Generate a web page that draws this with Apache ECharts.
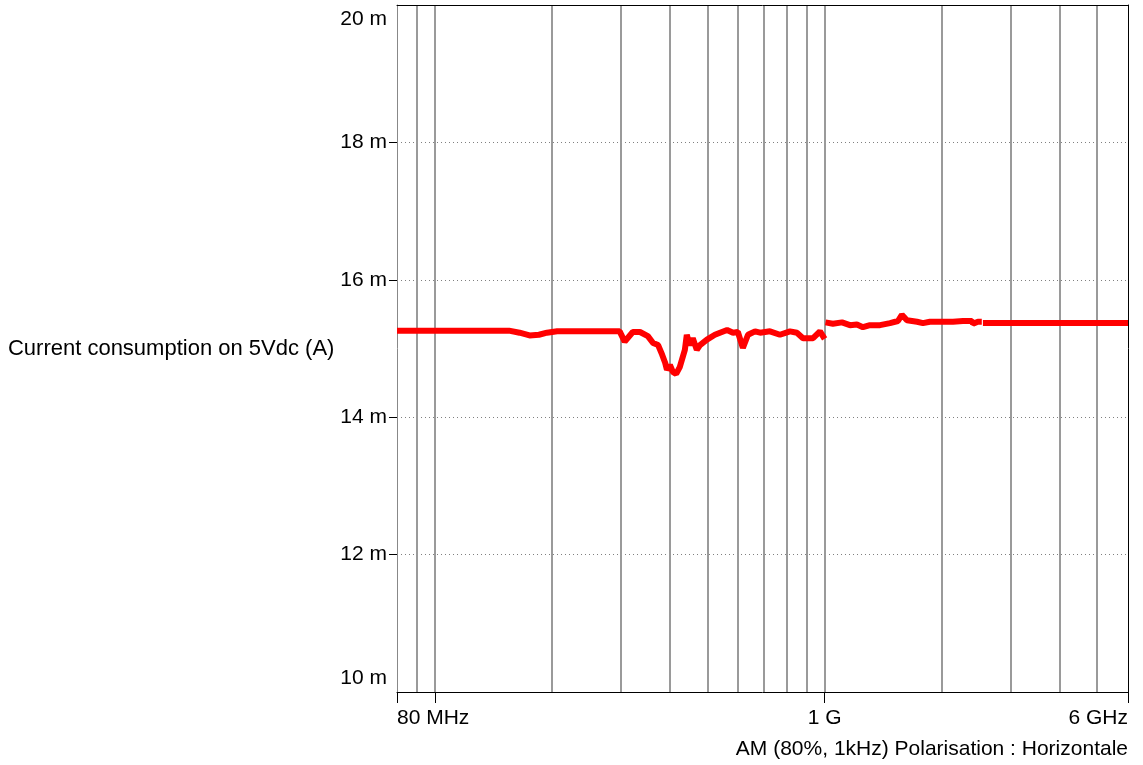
<!DOCTYPE html>
<html>
<head>
<meta charset="utf-8">
<script src="https://cdn.jsdelivr.net/npm/echarts@6/dist/echarts.min.js"></script>
<style>html,body{margin:0;padding:0;background:#fff}#c{width:1143px;height:765px}</style>
</head>
<body>
<div id="c"></div>
<script>
// Frequencies in MHz, current in mA (axis shows "m")
const seg1Freq = [80,155,165,175,185,194,206,298,307,322,336,352,363,374,383,390,394,401,408,416,425,438,443,451,459,470,479,499,523,539,562,582,599,617,636,663,683,724,768,815,849,880,934,973,1000];
const seg1Val  = [15.26,15.26,15.23,15.19,15.20,15.23,15.25,15.25,15.10,15.24,15.24,15.18,15.08,15.05,14.91,14.79,14.69,14.76,14.66,14.63,14.73,14.98,15.20,15.05,15.15,14.98,15.05,15.13,15.20,15.23,15.27,15.23,15.24,15.01,15.20,15.25,15.23,15.25,15.20,15.25,15.23,15.15,15.15,15.25,15.14];
const seg2Freq = [1005,1050,1108,1161,1210,1254,1307,1387,1471,1542,1578,1626,1726,1787,1862,2011,2134,2263,2387,2401,2473,2530];
const seg2Val  = [15.38,15.36,15.38,15.34,15.35,15.31,15.34,15.34,15.37,15.40,15.49,15.41,15.39,15.37,15.39,15.39,15.39,15.40,15.40,15.36,15.39,15.39];
const seg3Freq = [2547,6000];
const seg3Val  = [15.37,15.37];

const xGridFreqs = [90,100,200,300,400,500,600,700,800,900,1000,2000,3000,4000,5000];
const xTickFreqs = [80,100,1000,6000];
const xLabelFreqs = [80,1000,6000];
const xLabelText = {80:'80 MHz',1000:'1 G',6000:'6 GHz'};
const yTicks = [12,14,16,18];
const yMin = 10, yMax = 20, yStep = 2;

const yName = 'Current consumption on 5Vdc (A)';
const caption = 'AM (80%, 1kHz) Polarisation : Horizontale';

const zip = (f, v) => f.map((x, i) => [x, v[i]]);
const FONT = 'Liberation Sans, Arial, sans-serif';

const chart = echarts.init(document.getElementById('c'));
const lineStyle = {color: '#ff0000', width: 6};
chart.setOption({
  animation: false,
  backgroundColor: '#fff',
  textStyle: {fontFamily: FONT},
  title: {
    text: caption, right: 10, top: 734,
    textStyle: {fontSize: 21, fontWeight: 'normal', color: '#000', fontFamily: FONT}
  },
  grid: {left: 397, right: 15, top: 5, bottom: 73, containLabel: false},
  xAxis: [
    {
      type: 'log', logBase: 10, min: 80, max: 6000,
      axisLine: {show: true, lineStyle: {color: '#000', width: 1}},
      axisTick: {show: true, customValues: xTickFreqs, length: 11, lineStyle: {color: '#000', width: 1}},
      axisLabel: {
        customValues: xLabelFreqs, fontSize: 21, color: '#000', margin: 16, fontFamily: FONT,
        alignMinLabel: 'left', alignMaxLabel: 'right',
        formatter: v => xLabelText[Math.round(v)] || ''
      },
      splitLine: {show: false}
    },
    {
      type: 'log', logBase: 10, min: 80, max: 6000, position: 'top',
      axisLine: {show: true, lineStyle: {color: '#000', width: 1}},
      axisTick: {show: false, customValues: xGridFreqs},
      axisLabel: {show: false},
      splitLine: {show: true, lineStyle: {color: '#9a9a9a', width: 2, type: 'solid'}}
    }
  ],
  yAxis: [
    {
      type: 'value', min: yMin, max: yMax, interval: yStep,
      axisLine: {show: true, lineStyle: {color: '#888', width: 1}},
      axisTick: {show: true, customValues: yTicks, length: 8, lineStyle: {color: '#000', width: 1}},
      axisLabel: {
        fontSize: 21, lineHeight: 28, color: '#000', margin: 10, fontFamily: FONT,
        formatter: v => v + ' m',
        verticalAlignMaxLabel: 'top', verticalAlignMinLabel: 'bottom'
      },
      splitLine: {show: true, lineStyle: {color: '#808080', width: 1, type: [1, 3]}},
      name: yName, nameLocation: 'middle', nameRotate: 0, nameGap: 62,
      nameTextStyle: {fontSize: 22, color: '#000', fontFamily: FONT, align: 'right', padding: [4, 0, 0, 0]}
    },
    {
      type: 'value', min: yMin, max: yMax, position: 'right',
      axisLine: {show: true, lineStyle: {color: '#000', width: 1}},
      axisTick: {show: false}, axisLabel: {show: false}, splitLine: {show: false}
    }
  ],
  series: [
    {type: 'line', xAxisIndex: 0, yAxisIndex: 0, data: zip(seg1Freq, seg1Val), symbol: 'none', lineStyle, z: 5},
    {type: 'line', xAxisIndex: 0, yAxisIndex: 0, data: zip(seg2Freq, seg2Val), symbol: 'none', lineStyle, z: 5},
    {type: 'line', xAxisIndex: 0, yAxisIndex: 0, data: zip(seg3Freq, seg3Val), symbol: 'none', lineStyle, z: 5}
  ]
});
</script>
</body>
</html>
